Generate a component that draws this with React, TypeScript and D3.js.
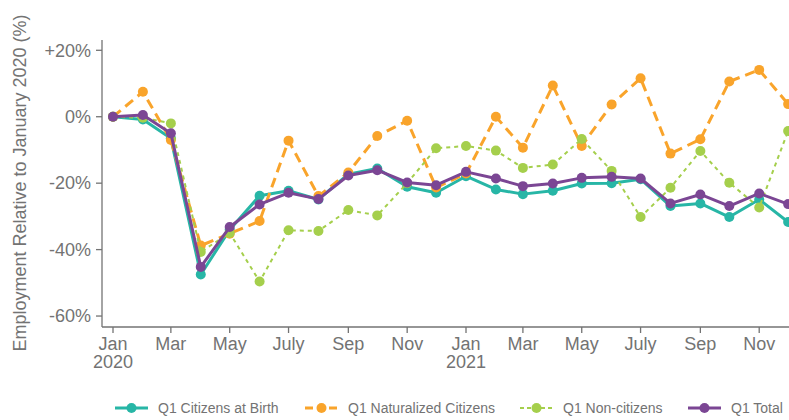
import React from "react";
import * as d3 from "d3";

const months = [
  "2020-01", "2020-02", "2020-03", "2020-04", "2020-05", "2020-06",
  "2020-07", "2020-08", "2020-09", "2020-10", "2020-11", "2020-12",
  "2021-01", "2021-02", "2021-03", "2021-04", "2021-05", "2021-06",
  "2021-07", "2021-08", "2021-09", "2021-10", "2021-11", "2021-12",
];

const citizensAtBirth = [0, -0.8, -6.5, -47.5, -34, -23.8, -22.3, -24.9, -17.3, -15.6, -21.1, -22.9, -17.9, -21.9, -23.3, -22.3, -20.1, -20.0, -18.8, -26.9, -26.1, -30.2, -24.9, -31.7];
const naturalizedCitizens = [0, 7.5, -7.0, -38.8, -35.2, -31.4, -7.2, -23.9, -16.8, -5.8, -1.2, -21.3, -17.1, 0, -9.3, 9.4, -8.8, 3.7, 11.6, -11.1, -6.8, 10.6, 14.1, 3.8];
const nonCitizens = [0, -0.3, -2.0, -40.7, -35, -49.6, -34.2, -34.4, -28.1, -29.7, -20, -9.5, -8.8, -10.2, -15.4, -14.4, -6.7, -16.3, -30.2, -21.4, -10.3, -19.9, -27.3, -4.3];
const total = [0, 0.5, -5.0, -45.2, -33.2, -26.4, -22.9, -24.8, -17.7, -16.1, -19.8, -20.6, -16.6, -18.6, -20.9, -20.1, -18.4, -18.1, -18.6, -26.1, -23.4, -26.9, -23.1, -26.3];

const yTicks = [20, 0, -20, -40, -60];
const xTickMonths = ["2020-01", "2020-03", "2020-05", "2020-07", "2020-09", "2020-11", "2021-01", "2021-03", "2021-05", "2021-07", "2021-09", "2021-11"];

const seriesNames = ["Q1 Citizens at Birth", "Q1 Naturalized Citizens", "Q1 Non-citizens", "Q1 Total"];
const seriesValues = [citizensAtBirth, naturalizedCitizens, nonCitizens, total];
const seriesColors = ["#27b6a6", "#f9a42b", "#a5cf4c", "#7b4694"];
const seriesDash = ["none", "10,6", "4,4", "none"];
const seriesWidth = [3, 3, 2, 3];

const W = 789;
const H = 420;
const GRAY = "#737373";
const FONT = "'Liberation Sans', Arial, Helvetica, sans-serif";

const parseMonth = d3.timeParse("%Y-%m");

export default function App() {
  const dates = months.map((m) => parseMonth(m) as Date);
  const x = d3
    .scaleTime()
    .domain([new Date(2020, 0, 1), new Date(2021, 0, 1)])
    .range([113, 466]);
  const y = d3.scaleLinear().domain([-63.3, 23.1]).range([327, 40]);
  const left = 102;
  const bottom = 327;
  const top = 40;

  const line = d3
    .line<number>()
    .x((_, i) => x(dates[i]))
    .y((v) => y(v));

  const fmtY = (v: number) => (v > 0 ? `+${v}%` : `${v}%`);
  const monthName = d3.timeFormat("%b");

  const legendX = [115, 305, 520, 688];
  const legendY = 408;

  return (
    <svg
      width={W}
      height={H}
      style={{ position: "absolute", left: 0, top: 0, display: "block", background: "#fff" }}
      fontFamily={FONT}
    >
      <defs>
        <clipPath id="plotclip">
          <rect x={0} y={0} width={W} height={H} />
        </clipPath>
      </defs>
      {/* axes */}
      <line x1={left} x2={left} y1={top} y2={bottom} stroke={GRAY} strokeWidth={1.3} />
      <line x1={left} x2={W} y1={bottom} y2={bottom} stroke={GRAY} strokeWidth={1.3} />
      {yTicks.map((t) => (
        <g key={t}>
          <line x1={left - 6} x2={left} y1={y(t)} y2={y(t)} stroke={GRAY} strokeWidth={1.3} />
          <text x={left - 11} y={y(t)} dy="0.35em" textAnchor="end" fontSize={18} fill={GRAY}>
            {fmtY(t)}
          </text>
        </g>
      ))}
      {xTickMonths.map((m) => {
        const d = parseMonth(m) as Date;
        const px = x(d);
        let label = monthName(d);
        if (label === "Jul") label = "July";
        return (
          <g key={m}>
            <line x1={px} x2={px} y1={bottom} y2={bottom + 6} stroke={GRAY} strokeWidth={1.3} />
            <text x={px} y={350} textAnchor="middle" fontSize={18} fill={GRAY}>
              {label}
            </text>
            {d.getMonth() === 0 && (
              <text x={px} y={368} textAnchor="middle" fontSize={18} fill={GRAY}>
                {d.getFullYear()}
              </text>
            )}
          </g>
        );
      })}
      <text
        transform={`translate(26,183) rotate(-90)`}
        textAnchor="middle"
        fontSize={18}
        fill={GRAY}
      >
        Employment Relative to January 2020 (%)
      </text>

      {/* series */}
      <g clipPath="url(#plotclip)">
        {seriesValues.map((vals, si) => (
          <g key={si}>
            <path
              d={line(vals) || ""}
              fill="none"
              stroke={seriesColors[si]}
              strokeWidth={seriesWidth[si]}
              strokeDasharray={seriesDash[si]}
              strokeLinejoin="round"
            />
            {vals.map((v, i) => (
              <circle key={i} cx={x(dates[i])} cy={y(v)} r={5} fill={seriesColors[si]} />
            ))}
          </g>
        ))}
      </g>

      {/* legend */}
      {seriesNames.map((name, si) => (
        <g key={name}>
          <line
            x1={legendX[si]}
            x2={legendX[si] + 33}
            y1={legendY}
            y2={legendY}
            stroke={seriesColors[si]}
            strokeWidth={seriesWidth[si]}
            strokeDasharray={seriesDash[si] === "10,6" ? "8,4" : seriesDash[si] === "4,4" ? "4,3" : "none"}
          />
          <circle cx={legendX[si] + 16.5} cy={legendY} r={5} fill={seriesColors[si]} />
          <text x={legendX[si] + 43} y={legendY} dy="0.35em" fontSize={14} fill={GRAY}>
            {name}
          </text>
        </g>
      ))}
    </svg>
  );
}
